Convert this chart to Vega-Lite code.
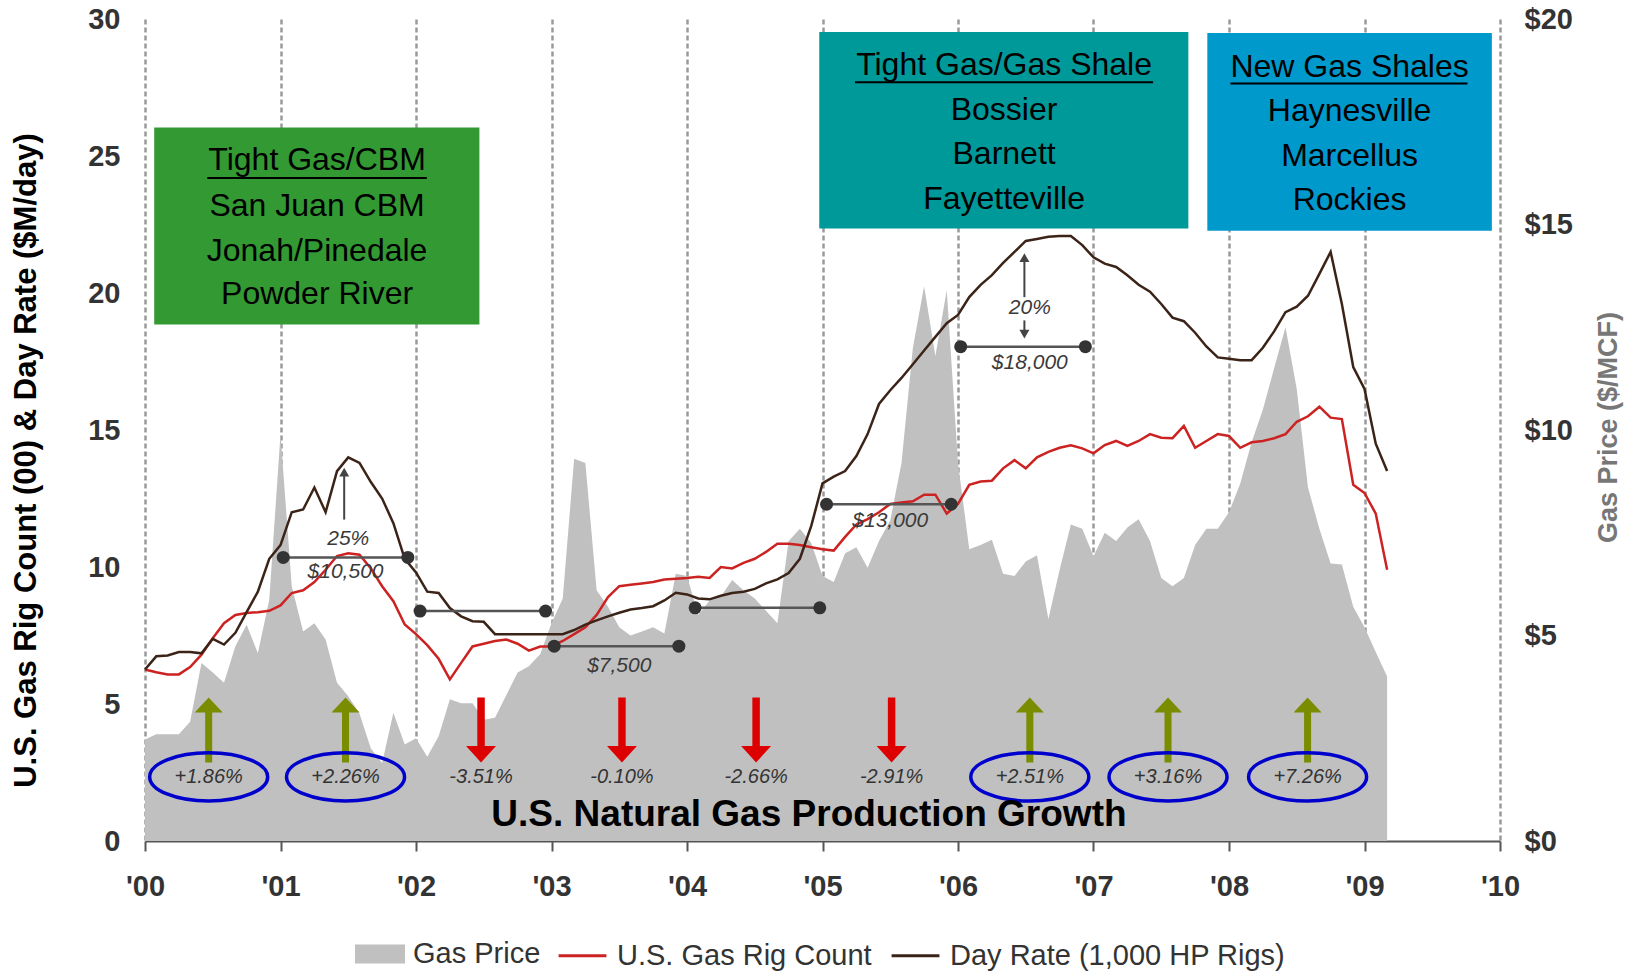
{
  "$schema": "https://vega.github.io/schema/vega-lite/v6.json",
  "width": 1355,
  "height": 822,
  "autosize": {"type": "none"},
  "padding": {"left": 145, "top": 19, "right": 133, "bottom": 132},
  "background": "white",
  "config": {"view": {"stroke": null}, "font": "Liberation Sans"},
  "datasets": {
    "series": [
      {"t": 2000, "price": 2.47, "rig": 6.26, "day": 6.26},
      {"t": 2000.083, "price": 2.6, "rig": 6.16, "day": 6.74},
      {"t": 2000.167, "price": 2.6, "rig": 6.08, "day": 6.77},
      {"t": 2000.25, "price": 2.6, "rig": 6.08, "day": 6.9},
      {"t": 2000.333, "price": 2.9, "rig": 6.35, "day": 6.9},
      {"t": 2000.417, "price": 4.33, "rig": 6.8, "day": 6.85},
      {"t": 2000.5, "price": 4.1, "rig": 7.4, "day": 7.38},
      {"t": 2000.583, "price": 3.85, "rig": 7.95, "day": 7.17},
      {"t": 2000.667, "price": 4.74, "rig": 8.25, "day": 7.6},
      {"t": 2000.75, "price": 5.26, "rig": 8.32, "day": 8.35},
      {"t": 2000.833, "price": 4.57, "rig": 8.35, "day": 9.1},
      {"t": 2000.917, "price": 5.87, "rig": 8.4, "day": 10.3},
      {"t": 2001, "price": 9.9, "rig": 8.6, "day": 10.8},
      {"t": 2001.083, "price": 6.2, "rig": 9.05, "day": 12.0},
      {"t": 2001.167, "price": 5.1, "rig": 9.15, "day": 12.1},
      {"t": 2001.25, "price": 5.3, "rig": 9.45, "day": 12.9},
      {"t": 2001.333, "price": 4.9, "rig": 9.9, "day": 12.0},
      {"t": 2001.417, "price": 3.85, "rig": 10.4, "day": 13.5},
      {"t": 2001.5, "price": 3.52, "rig": 10.5, "day": 14.0},
      {"t": 2001.583, "price": 3.1, "rig": 10.45, "day": 13.8},
      {"t": 2001.667, "price": 2.25, "rig": 9.95, "day": 13.1},
      {"t": 2001.75, "price": 1.9, "rig": 9.3, "day": 12.5},
      {"t": 2001.833, "price": 3.12, "rig": 8.75, "day": 11.6},
      {"t": 2001.917, "price": 2.35, "rig": 7.9, "day": 10.3},
      {"t": 2002, "price": 2.5, "rig": 7.55, "day": 9.8},
      {"t": 2002.083, "price": 2.05, "rig": 7.15, "day": 9.1},
      {"t": 2002.167, "price": 2.55, "rig": 6.65, "day": 9.05},
      {"t": 2002.25, "price": 3.45, "rig": 5.9, "day": 8.5},
      {"t": 2002.333, "price": 3.35, "rig": 6.5, "day": 8.2},
      {"t": 2002.417, "price": 3.35, "rig": 7.1, "day": 8.02},
      {"t": 2002.5, "price": 2.95, "rig": 7.2, "day": 8.0},
      {"t": 2002.583, "price": 3.0, "rig": 7.3, "day": 7.55},
      {"t": 2002.667, "price": 3.55, "rig": 7.35, "day": 7.55},
      {"t": 2002.75, "price": 4.1, "rig": 7.2, "day": 7.55},
      {"t": 2002.833, "price": 4.25, "rig": 6.95, "day": 7.55},
      {"t": 2002.917, "price": 4.55, "rig": 7.1, "day": 7.55},
      {"t": 2003, "price": 5.3, "rig": 7.1, "day": 7.55},
      {"t": 2003.083, "price": 5.9, "rig": 7.3, "day": 7.55},
      {"t": 2003.167, "price": 9.3, "rig": 7.55, "day": 7.7},
      {"t": 2003.25, "price": 9.2, "rig": 7.8, "day": 7.9},
      {"t": 2003.333, "price": 6.1, "rig": 8.25, "day": 8.05},
      {"t": 2003.417, "price": 5.7, "rig": 8.9, "day": 8.2},
      {"t": 2003.5, "price": 5.2, "rig": 9.3, "day": 8.33},
      {"t": 2003.583, "price": 5.0, "rig": 9.35, "day": 8.45},
      {"t": 2003.667, "price": 5.1, "rig": 9.4, "day": 8.5},
      {"t": 2003.75, "price": 5.2, "rig": 9.45, "day": 8.57},
      {"t": 2003.833, "price": 5.05, "rig": 9.54, "day": 8.78},
      {"t": 2003.917, "price": 6.5, "rig": 9.57, "day": 9.06},
      {"t": 2004, "price": 6.45, "rig": 9.6, "day": 9.0},
      {"t": 2004.083, "price": 5.5, "rig": 9.64, "day": 8.85},
      {"t": 2004.167, "price": 5.85, "rig": 9.6, "day": 8.82},
      {"t": 2004.25, "price": 5.95, "rig": 10.0, "day": 8.95},
      {"t": 2004.333, "price": 6.35, "rig": 9.95, "day": 9.05},
      {"t": 2004.417, "price": 6.1, "rig": 10.15, "day": 9.1},
      {"t": 2004.5, "price": 5.9, "rig": 10.3, "day": 9.2},
      {"t": 2004.583, "price": 5.6, "rig": 10.55, "day": 9.4},
      {"t": 2004.667, "price": 5.3, "rig": 10.85, "day": 9.55},
      {"t": 2004.75, "price": 7.3, "rig": 10.85, "day": 9.78},
      {"t": 2004.833, "price": 7.6, "rig": 10.8, "day": 10.3},
      {"t": 2004.917, "price": 7.25, "rig": 10.72, "day": 11.5},
      {"t": 2005, "price": 6.45, "rig": 10.65, "day": 13.05},
      {"t": 2005.083, "price": 6.3, "rig": 10.6, "day": 13.3},
      {"t": 2005.167, "price": 7.0, "rig": 11.1, "day": 13.5},
      {"t": 2005.25, "price": 7.15, "rig": 11.55, "day": 14.05},
      {"t": 2005.333, "price": 6.65, "rig": 11.75, "day": 14.85},
      {"t": 2005.417, "price": 7.3, "rig": 12.0, "day": 15.95},
      {"t": 2005.5, "price": 7.8, "rig": 12.3, "day": 16.45},
      {"t": 2005.583, "price": 9.2, "rig": 12.35, "day": 16.9},
      {"t": 2005.667, "price": 12.0, "rig": 12.4, "day": 17.4},
      {"t": 2005.75, "price": 13.5, "rig": 12.64, "day": 17.9},
      {"t": 2005.833, "price": 11.8, "rig": 12.64, "day": 18.4},
      {"t": 2005.917, "price": 13.4, "rig": 11.95, "day": 18.9},
      {"t": 2006, "price": 9.2, "rig": 12.3, "day": 19.2},
      {"t": 2006.083, "price": 7.1, "rig": 13.0, "day": 19.85},
      {"t": 2006.167, "price": 7.2, "rig": 13.12, "day": 20.3},
      {"t": 2006.25, "price": 7.33, "rig": 13.15, "day": 20.65},
      {"t": 2006.333, "price": 6.5, "rig": 13.6, "day": 21.1},
      {"t": 2006.417, "price": 6.45, "rig": 13.9, "day": 21.5},
      {"t": 2006.5, "price": 6.8, "rig": 13.6, "day": 21.9},
      {"t": 2006.583, "price": 6.95, "rig": 14.0, "day": 21.97},
      {"t": 2006.667, "price": 5.4, "rig": 14.2, "day": 22.05},
      {"t": 2006.75, "price": 6.6, "rig": 14.35, "day": 22.08},
      {"t": 2006.833, "price": 7.7, "rig": 14.44, "day": 22.08},
      {"t": 2006.917, "price": 7.6, "rig": 14.33, "day": 21.75},
      {"t": 2007, "price": 6.93, "rig": 14.15, "day": 21.3},
      {"t": 2007.083, "price": 7.5, "rig": 14.45, "day": 21.07},
      {"t": 2007.167, "price": 7.3, "rig": 14.6, "day": 20.95},
      {"t": 2007.25, "price": 7.63, "rig": 14.42, "day": 20.65},
      {"t": 2007.333, "price": 7.83, "rig": 14.6, "day": 20.3},
      {"t": 2007.417, "price": 7.3, "rig": 14.85, "day": 20.05},
      {"t": 2007.5, "price": 6.4, "rig": 14.72, "day": 19.6},
      {"t": 2007.583, "price": 6.2, "rig": 14.7, "day": 19.1},
      {"t": 2007.667, "price": 6.4, "rig": 15.15, "day": 18.97},
      {"t": 2007.75, "price": 7.2, "rig": 14.35, "day": 18.55},
      {"t": 2007.833, "price": 7.6, "rig": 14.6, "day": 18.05},
      {"t": 2007.917, "price": 7.6, "rig": 14.85, "day": 17.65},
      {"t": 2008, "price": 8.0, "rig": 14.78, "day": 17.6},
      {"t": 2008.083, "price": 8.7, "rig": 14.35, "day": 17.55},
      {"t": 2008.167, "price": 9.7, "rig": 14.55, "day": 17.55},
      {"t": 2008.25, "price": 10.5, "rig": 14.6, "day": 18.0},
      {"t": 2008.333, "price": 11.5, "rig": 14.7, "day": 18.6},
      {"t": 2008.417, "price": 12.5, "rig": 14.85, "day": 19.3},
      {"t": 2008.5, "price": 11.0, "rig": 15.3, "day": 19.5},
      {"t": 2008.583, "price": 8.6, "rig": 15.5, "day": 19.9},
      {"t": 2008.667, "price": 7.6, "rig": 15.85, "day": 20.7},
      {"t": 2008.75, "price": 6.75, "rig": 15.45, "day": 21.5},
      {"t": 2008.833, "price": 6.73, "rig": 15.4, "day": 19.6},
      {"t": 2008.917, "price": 5.7, "rig": 13.0, "day": 17.3},
      {"t": 2009, "price": 5.2, "rig": 12.7, "day": 16.5},
      {"t": 2009.083, "price": 4.6, "rig": 11.95, "day": 14.5},
      {"t": 2009.167, "price": 4.0, "rig": 9.9, "day": 13.5}
    ],
    "boxes": [
      {"name": "b1", "t": 2000.068, "t2": 2002.468, "v": 26.04, "v2": 18.85},
      {"name": "b2", "t": 2004.976, "t2": 2007.7, "v": 29.53, "v2": 22.35},
      {"name": "b3", "t": 2007.84, "t2": 2009.94, "v": 29.49, "v2": 22.27}
    ],
    "boxtext": [
      {"t": 2001.27, "v": 24.85, "text": "Tight Gas/CBM"},
      {"t": 2001.27, "v": 23.17, "text": "San Juan CBM"},
      {"t": 2001.27, "v": 21.54, "text": "Jonah/Pinedale"},
      {"t": 2001.27, "v": 19.95, "text": "Powder River"},
      {"t": 2006.34, "v": 28.31, "text": "Tight Gas/Gas Shale"},
      {"t": 2006.34, "v": 26.67, "text": "Bossier"},
      {"t": 2006.34, "v": 25.08, "text": "Barnett"},
      {"t": 2006.34, "v": 23.44, "text": "Fayetteville"},
      {"t": 2008.89, "v": 28.25, "text": "New Gas Shales"},
      {"t": 2008.89, "v": 26.64, "text": "Haynesville"},
      {"t": 2008.89, "v": 25.01, "text": "Marcellus"},
      {"t": 2008.89, "v": 23.38, "text": "Rockies"}
    ],
    "underlines": [
      {"t": 2000.46, "t2": 2002.08, "v": 24.2},
      {"t": 2005.24, "t2": 2007.44, "v": 27.69},
      {"t": 2008.01, "t2": 2009.76, "v": 27.65}
    ],
    "segs": [
      {"t": 2001.02, "t2": 2001.94, "v": 10.35},
      {"t": 2002.03, "t2": 2002.956, "v": 8.39},
      {"t": 2003.02, "t2": 2003.94, "v": 7.11},
      {"t": 2004.06, "t2": 2004.98, "v": 8.51},
      {"t": 2005.03, "t2": 2005.95, "v": 12.29},
      {"t": 2006.02, "t2": 2006.94, "v": 18.04}
    ],
    "notes": [
      {"t": 2001.48, "v": 9.8, "text": "$10,500"},
      {"t": 2001.5, "v": 11.03, "text": "25%"},
      {"t": 2003.5, "v": 6.4, "text": "$7,500"},
      {"t": 2005.5, "v": 11.69, "text": "$13,000"},
      {"t": 2006.53, "v": 17.43, "text": "$18,000"},
      {"t": 2006.53, "v": 19.45, "text": "20%"}
    ],
    "shafts": [
      {"t": 2001.47, "v": 11.73, "v2": 13.35},
      {"t": 2006.49, "v": 19.85, "v2": 21.25},
      {"t": 2006.49, "v": 18.55, "v2": 19.0}
    ],
    "heads": [
      {"t": 2001.47, "v": 13.46, "dir": "up"},
      {"t": 2006.49, "v": 21.29, "dir": "up"},
      {"t": 2006.49, "v": 18.5, "dir": "down"}
    ],
    "growth": [
      {"t": 2000.47, "label": "+1.86%", "dir": "up", "circled": true},
      {"t": 2001.48, "label": "+2.26%", "dir": "up", "circled": true},
      {"t": 2002.48, "label": "-3.51%", "dir": "down", "circled": false},
      {"t": 2003.52, "label": "-0.10%", "dir": "down", "circled": false},
      {"t": 2004.51, "label": "-2.66%", "dir": "down", "circled": false},
      {"t": 2005.51, "label": "-2.91%", "dir": "down", "circled": false},
      {"t": 2006.53, "label": "+2.51%", "dir": "up", "circled": true},
      {"t": 2007.55, "label": "+3.16%", "dir": "up", "circled": true},
      {"t": 2008.58, "label": "+7.26%", "dir": "up", "circled": true}
    ],
    "headline": [
      {"t": 2004.9, "text": "U.S. Natural Gas Production Growth"}
    ]
  },
  "resolve": {"scale": {"y": "independent"}},
  "layer": [
    {
      "data": {"name": "series"},
      "mark": {"type": "area", "interpolate": "linear", "opacity": 1},
      "encoding": {
        "x": {
          "field": "t", "type": "quantitative", "title": null,
          "scale": {"domain": [2000, 2010], "nice": false, "zero": false},
          "axis": {
            "values": [2000, 2001, 2002, 2003, 2004, 2005, 2006, 2007, 2008, 2009, 2010],
            "labelExpr": "\"'\" + substring(toString(datum.value), 2, 4)",
            "title": null,
            "grid": true, "gridColor": "#9a9a9a", "gridDash": [5, 3], "gridWidth": 2.5,
            "domain": true, "domainColor": "#555555", "domainWidth": 2,
            "ticks": true, "tickColor": "#555555", "tickWidth": 2, "tickSize": 10,
            "labelFont": "Liberation Sans", "labelFontSize": 29, "labelFontWeight": "bold",
            "labelColor": "#333333", "labelPadding": 21, "labelFlush": false, "labelOverlap": false
          }
        },
        "y": {
          "field": "price", "type": "quantitative",
          "scale": {"domain": [0, 20], "nice": false, "zero": true},
          "axis": {
            "orient": "right",
            "values": [0, 5, 10, 15, 20],
            "labelExpr": "'$' + datum.value",
            "title": "Gas Price ($/MCF)",
            "titleAngle": -90, "titleX": 116, "titleY": 408,
            "titleAlign": "center", "titleBaseline": "alphabetic",
            "titleFont": "Liberation Sans", "titleFontSize": 27, "titleFontWeight": "bold", "titleColor": "#777777",
            "domain": false, "ticks": false, "grid": false,
            "labelFont": "Liberation Sans", "labelFontSize": 29, "labelFontWeight": "bold",
            "labelColor": "#333333", "labelPadding": 24, "labelFlush": false
          }
        },
        "fill": {
          "datum": "gas", "type": "nominal",
          "scale": {"domain": ["gas"], "range": ["#c0c0c0"]},
          "legend": {
            "orient": "none", "legendX": 209, "legendY": 909, "direction": "horizontal",
            "title": null, "padding": 0,
            "labelFont": "Liberation Sans", "labelFontSize": 29, "labelColor": "#333333", "labelLimit": 0,
            "labelOffset": 7, "symbolSize": 2704, "symbolStrokeWidth": 0, "symbolOpacity": 1,
            "symbolType": "M-0.96,-0.37L0.96,-0.37L0.96,0.37L-0.96,0.37Z",
            "labelExpr": "'Gas Price'"
          }
        }
      }
    },
    {
      "layer": [
        {
          "data": {"name": "series"},
          "transform": [{"fold": ["rig", "day"], "as": ["series", "v"]}],
          "mark": {"type": "line", "strokeWidth": 2.5, "interpolate": "linear"},
          "encoding": {
            "x": {"field": "t", "type": "quantitative", "title": null, "scale": {"domain": [2000, 2010], "nice": false, "zero": false}},
            "y": {
              "field": "v", "type": "quantitative",
              "scale": {"domain": [0, 30], "nice": false, "zero": true},
              "axis": {
                "orient": "left",
                "values": [0, 5, 10, 15, 20, 25, 30],
                "title": "U.S. Gas Rig Count (00) & Day Rate ($M/day)",
                "titleAngle": -90, "titleX": -110, "titleY": 441,
                "titleAlign": "center", "titleBaseline": "alphabetic",
                "titleFont": "Liberation Sans", "titleFontSize": 31, "titleFontWeight": "bold", "titleColor": "#000000",
                "domain": false, "ticks": false, "grid": false,
                "labelFont": "Liberation Sans", "labelFontSize": 29, "labelFontWeight": "bold",
                "labelColor": "#333333", "labelPadding": 25, "labelFlush": false
              }
            },
            "stroke": {
              "field": "series", "type": "nominal",
              "scale": {"domain": ["rig", "day"], "range": ["#cc2222", "#3b2417"]},
              "legend": {
                "orient": "none", "legendX": 410, "legendY": 909, "direction": "horizontal",
                "title": null, "padding": 0,
                "labelFont": "Liberation Sans", "labelFontSize": 29, "labelColor": "#333333", "labelLimit": 0,
                "labelOffset": 7, "columnPadding": 13, "symbolSize": 2704, "symbolStrokeWidth": 3, "symbolOpacity": 1,
                "symbolType": "M-0.92,0L0.92,0",
                "labelExpr": "datum.value == 'rig' ? 'U.S. Gas Rig Count' : 'Day Rate (1,000 HP Rigs)'"
              }
            }
          }
        },
        {
          "data": {"name": "segs"},
          "mark": {"type": "rule", "color": "#555555", "strokeWidth": 2.5},
          "encoding": {
            "x": {"field": "t", "type": "quantitative", "title": null, "scale": {"domain": [2000, 2010], "nice": false, "zero": false}},
            "x2": {"field": "t2"},
            "y": {"field": "v", "type": "quantitative", "scale": {"domain": [0, 30], "nice": false, "zero": true}}
          }
        },
        {
          "data": {"name": "segs"},
          "transform": [{"fold": ["t", "t2"], "as": ["end", "tt"]}],
          "mark": {"type": "point", "shape": "circle", "filled": true, "size": 169, "color": "#333333", "opacity": 1},
          "encoding": {
            "x": {"field": "tt", "type": "quantitative", "title": null, "scale": {"domain": [2000, 2010], "nice": false, "zero": false}},
            "y": {"field": "v", "type": "quantitative", "scale": {"domain": [0, 30], "nice": false, "zero": true}}
          }
        },
        {
          "data": {"name": "notes"},
          "mark": {"type": "text", "font": "Liberation Sans", "fontSize": 21, "fontStyle": "italic", "color": "#3a3a3a", "align": "center", "baseline": "middle"},
          "encoding": {
            "x": {"field": "t", "type": "quantitative", "title": null, "scale": {"domain": [2000, 2010], "nice": false, "zero": false}},
            "y": {"field": "v", "type": "quantitative", "scale": {"domain": [0, 30], "nice": false, "zero": true}},
            "text": {"field": "text"}
          }
        },
        {
          "data": {"name": "shafts"},
          "mark": {"type": "rule", "color": "#444444", "strokeWidth": 2},
          "encoding": {
            "x": {"field": "t", "type": "quantitative", "title": null, "scale": {"domain": [2000, 2010], "nice": false, "zero": false}},
            "y": {"field": "v", "type": "quantitative", "scale": {"domain": [0, 30], "nice": false, "zero": true}},
            "y2": {"field": "v2"}
          }
        },
        {
          "data": {"name": "heads"},
          "transform": [{"filter": "datum.dir == 'up'"}],
          "mark": {"type": "point", "shape": "triangle-up", "filled": true, "size": 100, "color": "#444444", "opacity": 1},
          "encoding": {
            "x": {"field": "t", "type": "quantitative", "title": null, "scale": {"domain": [2000, 2010], "nice": false, "zero": false}},
            "y": {"field": "v", "type": "quantitative", "scale": {"domain": [0, 30], "nice": false, "zero": true}}
          }
        },
        {
          "data": {"name": "heads"},
          "transform": [{"filter": "datum.dir == 'down'"}],
          "mark": {"type": "point", "shape": "triangle-down", "filled": true, "size": 100, "color": "#444444", "opacity": 1},
          "encoding": {
            "x": {"field": "t", "type": "quantitative", "title": null, "scale": {"domain": [2000, 2010], "nice": false, "zero": false}},
            "y": {"field": "v", "type": "quantitative", "scale": {"domain": [0, 30], "nice": false, "zero": true}}
          }
        },
        {
          "data": {"name": "growth"},
          "transform": [{"filter": "datum.dir == 'up'"}],
          "mark": {"type": "point", "shape": "M0,-1L0.431,-0.538L0.108,-0.538L0.108,1L-0.108,1L-0.108,-0.538L-0.431,-0.538Z", "filled": true, "size": 4225, "color": "#7a8c00", "strokeWidth": 0, "opacity": 1},
          "encoding": {
            "x": {"field": "t", "type": "quantitative", "title": null, "scale": {"domain": [2000, 2010], "nice": false, "zero": false}},
            "y": {"datum": 4.05, "type": "quantitative", "scale": {"domain": [0, 30], "nice": false, "zero": true}}
          }
        },
        {
          "data": {"name": "growth"},
          "transform": [{"filter": "datum.dir == 'down'"}],
          "mark": {"type": "point", "shape": "M0,1L0.46,0.49L0.115,0.49L0.115,-1L-0.115,-1L-0.115,0.49L-0.46,0.49Z", "filled": true, "size": 4225, "color": "#dd0000", "strokeWidth": 0, "opacity": 1},
          "encoding": {
            "x": {"field": "t", "type": "quantitative", "title": null, "scale": {"domain": [2000, 2010], "nice": false, "zero": false}},
            "y": {"datum": 4.05, "type": "quantitative", "scale": {"domain": [0, 30], "nice": false, "zero": true}}
          }
        },
        {
          "data": {"name": "growth"},
          "transform": [{"filter": "datum.circled"}],
          "mark": {"type": "point", "shape": "M1,0C1,0.226 0.552,0.41 0,0.41C-0.552,0.41 -1,0.226 -1,0C-1,-0.226 -0.552,-0.41 0,-0.41C0.552,-0.41 1,-0.226 1,0Z", "filled": false, "size": 13924, "stroke": "#0000cc", "strokeWidth": 3.5, "opacity": 1},
          "encoding": {
            "x": {"field": "t", "type": "quantitative", "title": null, "scale": {"domain": [2000, 2010], "nice": false, "zero": false}},
            "y": {"datum": 2.34, "type": "quantitative", "scale": {"domain": [0, 30], "nice": false, "zero": true}}
          }
        },
        {
          "data": {"name": "growth"},
          "mark": {"type": "text", "font": "Liberation Sans", "fontSize": 20, "fontStyle": "italic", "color": "#333333", "align": "center", "baseline": "middle"},
          "encoding": {
            "x": {"field": "t", "type": "quantitative", "title": null, "scale": {"domain": [2000, 2010], "nice": false, "zero": false}},
            "y": {"datum": 2.33, "type": "quantitative", "scale": {"domain": [0, 30], "nice": false, "zero": true}},
            "text": {"field": "label"}
          }
        },
        {
          "data": {"name": "headline"},
          "mark": {"type": "text", "font": "Liberation Sans", "fontSize": 37, "fontWeight": "bold", "color": "#000000", "align": "center", "baseline": "middle"},
          "encoding": {
            "x": {"field": "t", "type": "quantitative", "title": null, "scale": {"domain": [2000, 2010], "nice": false, "zero": false}},
            "y": {"datum": 0.95, "type": "quantitative", "scale": {"domain": [0, 30], "nice": false, "zero": true}},
            "text": {"field": "text"}
          }
        },
        {
          "data": {"name": "boxes"},
          "mark": {"type": "rect", "opacity": 1},
          "encoding": {
            "x": {"field": "t", "type": "quantitative", "title": null, "scale": {"domain": [2000, 2010], "nice": false, "zero": false}},
            "x2": {"field": "t2"},
            "y": {"field": "v", "type": "quantitative", "scale": {"domain": [0, 30], "nice": false, "zero": true}},
            "y2": {"field": "v2"},
            "color": {"field": "name", "type": "nominal", "scale": {"domain": ["b1", "b2", "b3"], "range": ["#339933", "#009999", "#0099cc"]}, "legend": null}
          }
        },
        {
          "data": {"name": "underlines"},
          "mark": {"type": "rule", "color": "#000000", "strokeWidth": 2},
          "encoding": {
            "x": {"field": "t", "type": "quantitative", "title": null, "scale": {"domain": [2000, 2010], "nice": false, "zero": false}},
            "x2": {"field": "t2"},
            "y": {"field": "v", "type": "quantitative", "scale": {"domain": [0, 30], "nice": false, "zero": true}}
          }
        },
        {
          "data": {"name": "boxtext"},
          "mark": {"type": "text", "font": "Liberation Sans", "fontSize": 32, "color": "#000000", "align": "center", "baseline": "middle"},
          "encoding": {
            "x": {"field": "t", "type": "quantitative", "title": null, "scale": {"domain": [2000, 2010], "nice": false, "zero": false}},
            "y": {"field": "v", "type": "quantitative", "scale": {"domain": [0, 30], "nice": false, "zero": true}},
            "text": {"field": "text"}
          }
        }
      ]
    }
  ]
}
